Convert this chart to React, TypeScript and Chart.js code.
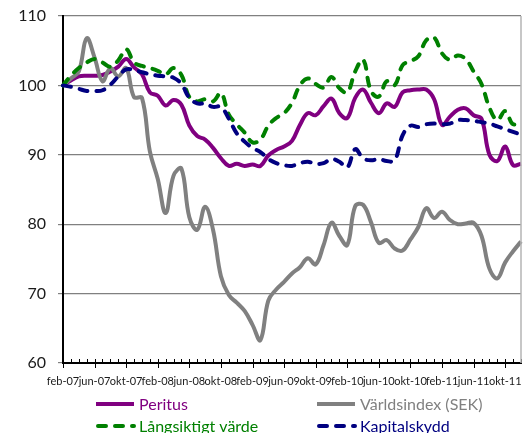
import React, { useEffect, useRef } from 'react';
import { Chart, registerables } from 'chart.js';

Chart.register(...registerables);

// Categories: monthly, feb-07 .. dec-11
const monthNames = ['jan', 'feb', 'mar', 'apr', 'maj', 'jun', 'jul', 'aug', 'sep', 'okt', 'nov', 'dec'];
const startYear = 2007;
const startMonth = 1; // feb
const monthCount = 59;
const categories: string[] = [];
for (let i = 0; i < monthCount; i++) {
  const mi = startMonth + i;
  const y = startYear + Math.floor(mi / 12);
  categories.push(monthNames[mi % 12] + '-' + String(y % 100).padStart(2, '0'));
}
const labelEvery = 4;

const yMin = 60;
const yMax = 110;
const yStep = 10;

const seriesNames = ['Peritus', 'Världsindex (SEK)', 'Långsiktigt värde', 'Kapitalskydd'];

const peritus = [100, 100.7, 101.3, 101.4, 101.4, 101.5, 102.0, 102.7, 103.8, 102.6, 101.6, 99.0, 98.5, 97.1, 97.9, 97.2, 94.2, 92.7, 92.2, 91.0, 89.5, 88.4, 88.7, 88.4, 88.6, 88.4, 89.9, 90.7, 91.2, 92.0, 94.3, 96.0, 95.7, 97.0, 98.1, 96.0, 95.3, 98.2, 99.4, 97.5, 96.0, 97.4, 96.9, 99.0, 99.3, 99.4, 99.4, 98.0, 94.3, 95.5, 96.5, 96.7, 95.7, 95.2, 90.0, 89.1, 91.2, 88.5, 88.7];
const varldsindex = [100, 101.0, 102.0, 106.8, 104.0, 100.6, 102.5, 101.3, 102.5, 98.3, 98.2, 90.5, 86.5, 81.6, 87.0, 88.0, 81.0, 79.2, 82.5, 79.2, 72.5, 69.8, 68.7, 67.5, 65.5, 63.3, 69.0, 70.6, 71.7, 72.9, 73.8, 75.1, 74.2, 77.0, 80.2, 78.3, 77.0, 82.6, 82.8, 80.3, 77.3, 77.7, 76.5, 76.2, 77.8, 79.6, 82.3, 80.9, 81.8, 80.6, 80.0, 80.1, 80.2, 78.3, 73.6, 72.2, 74.5, 76.1, 77.5];
const langsiktigt = [100, 101.4, 102.5, 103.3, 103.8, 103.3, 102.7, 103.6, 105.2, 103.3, 102.8, 102.5, 102.1, 101.6, 102.5, 101.5, 98.3, 97.7, 98.0, 97.7, 98.9, 95.8, 94.4, 93.2, 91.8, 92.2, 94.2, 95.3, 96.0, 97.5, 100.0, 101.0, 100.2, 99.7, 101.2, 99.6, 99.0, 102.0, 103.7, 99.2, 98.4, 100.6, 100.0, 102.9, 103.5, 104.2, 106.5, 106.9, 104.6, 103.7, 104.3, 103.8, 102.0, 100.2, 96.8, 95.0, 96.3, 94.4, 95.2];
const kapitalskydd = [100, 99.8, 99.5, 99.2, 99.2, 99.3, 100.1, 101.3, 102.3, 102.2, 101.9, 101.6, 101.4, 101.3, 101.1, 100.2, 98.2, 97.4, 97.4, 96.9, 96.9, 95.2, 93.1, 91.9, 91.0, 90.4, 89.4, 88.8, 88.5, 88.4, 88.8, 89.0, 88.7, 88.8, 89.4, 89.0, 88.2, 90.8, 89.5, 89.2, 89.4, 89.1, 89.2, 92.8, 94.2, 94.0, 94.4, 94.5, 94.4, 94.5, 95.0, 95.0, 94.9, 94.7, 94.5, 94.1, 93.7, 93.3, 92.9];

const colors = ['#800080', '#808080', '#008000', '#000080'];
const dashed = [false, false, true, true];
const dashPattern = [8, 9];

const FONT = 'Lato, "Open Sans", sans-serif';

const tickMarksPlugin = {
  id: 'tickMarks',
  afterDraw(chart: any) {
    const { ctx, chartArea, scales } = chart;
    const xs = scales.x;
    const b = chartArea.bottom;
    ctx.save();
    ctx.strokeStyle = '#000';
    ctx.lineWidth = 1;
    for (let i = 0; i < categories.length; i++) {
      const x = Math.round(xs.getPixelForValue(i)) + 0.5;
      ctx.beginPath();
      if (i % labelEvery === 0) {
        ctx.moveTo(x, b - 4);
        ctx.lineTo(x, b + 5);
      } else {
        ctx.moveTo(x, b - 4);
        ctx.lineTo(x, b);
      }
      ctx.stroke();
    }
    // right border of plot
    ctx.strokeStyle = '#b4b4b4';
    ctx.lineWidth = 1.5;
    ctx.beginPath();
    ctx.moveTo(chartArea.right, chartArea.top);
    ctx.lineTo(chartArea.right, chartArea.bottom);
    ctx.stroke();
    ctx.restore();
  },
};

const legendPlugin = {
  id: 'customLegend',
  afterDraw(chart: any) {
    const { ctx } = chart;
    const items = [
      { i: 0, x: 96, y: 404 },
      { i: 1, x: 317, y: 404 },
      { i: 2, x: 96, y: 426 },
      { i: 3, x: 317, y: 426 },
    ];
    ctx.save();
    ctx.font = '16px ' + FONT;
    ctx.textBaseline = 'middle';
    ctx.textAlign = 'left';
    for (const it of items) {
      const c = colors[it.i];
      ctx.strokeStyle = c;
      ctx.lineWidth = 4;
      ctx.lineCap = dashed[it.i] ? 'round' : 'butt';
      ctx.setLineDash(dashed[it.i] ? dashPattern : []);
      ctx.beginPath();
      ctx.moveTo(it.x + (dashed[it.i] ? 2 : 0), it.y);
      ctx.lineTo(it.x + 38, it.y);
      ctx.stroke();
      ctx.setLineDash([]);
      ctx.fillStyle = c;
      ctx.fillText(seriesNames[it.i], it.x + 43, it.y + 1);
    }
    ctx.restore();
  },
};

export default function App() {
  const ref = useRef<HTMLCanvasElement>(null);
  useEffect(() => {
    document.body.style.margin = '0';
    const series = [peritus, varldsindex, langsiktigt, kapitalskydd];
    const chart = new Chart(ref.current as HTMLCanvasElement, {
      type: 'line',
      data: {
        labels: categories,
        datasets: series.map((d, i) => ({
          label: seriesNames[i],
          data: d,
          borderColor: colors[i],
          backgroundColor: colors[i],
          borderWidth: 4,
          borderDash: dashed[i] ? dashPattern : [],
          borderCapStyle: dashed[i] ? 'round' : 'butt',
          borderJoinStyle: 'round',
          pointRadius: 0,
          tension: 0.4,
          fill: false,
          order: 4 - i,
        })),
      },
      options: {
        responsive: false,
        animation: false,
        devicePixelRatio: 1,
        layout: { padding: { left: 0, right: 3, top: 16, bottom: 0 } },
        plugins: { legend: { display: false }, tooltip: { enabled: false } },
        scales: {
          x: {
            type: 'category',
            offset: false,
            grid: { display: false, drawTicks: false, drawOnChartArea: false },
            border: { display: true, color: '#000', width: 2 },
            ticks: {
              autoSkip: false,
              maxRotation: 0,
              minRotation: 0,
              padding: 12,
              color: '#1a1a1a',
              font: { family: FONT, size: 11 },
              callback: (_v: any, idx: number) => (idx % labelEvery === 0 ? categories[idx] : ''),
            },
            afterFit: (s: any) => {
              s.height = 70;
              s.paddingLeft = 0;
              s.paddingRight = 0;
            },
          },
          y: {
            min: yMin,
            max: yMax,
            grid: { color: '#808080', lineWidth: 1.2, tickLength: 5, tickColor: '#808080' },
            border: { display: true, color: '#000', width: 2 },
            ticks: {
              stepSize: yStep,
              padding: 12,
              color: '#1a1a1a',
              font: { family: FONT, size: 16 },
            },
            afterFit: (s: any) => {
              s.width = 63;
              s.paddingTop = 0;
              s.paddingBottom = 0;
            },
          },
        },
      },
      plugins: [tickMarksPlugin, legendPlugin],
    } as any);
    return () => chart.destroy();
  }, []);
  return (
    <div style={{ position: 'absolute', left: 0, top: 0, width: 524, height: 433, background: '#fff' }}>
      <canvas ref={ref} width={524} height={433} style={{ display: 'block', width: 524, height: 433 }} />
    </div>
  );
}
